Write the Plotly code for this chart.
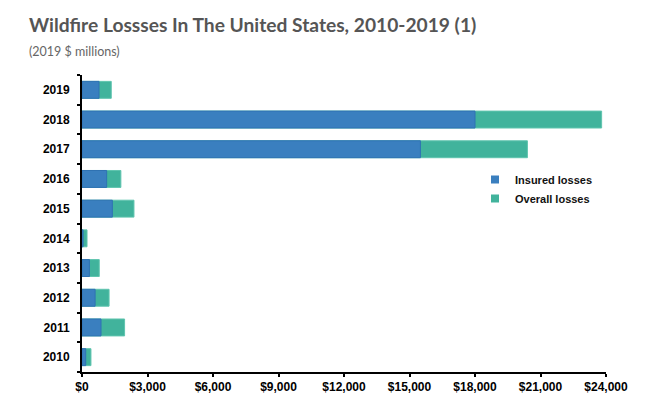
import plotly.graph_objects as go

years = ["2010", "2011", "2012", "2013", "2014", "2015", "2016", "2017", "2018", "2019"]
insured = [170, 870, 600, 340, 50, 1390, 1130, 15500, 18000, 780]
overall = [410, 1950, 1240, 790, 230, 2380, 1780, 20400, 23800, 1340]
x_ticks = [0, 3000, 6000, 9000, 12000, 15000, 18000, 21000, 24000]
x_labels = ["$0", "$3,000", "$6,000", "$9,000", "$12,000", "$15,000", "$18,000", "$21,000", "$24,000"]

BLUE = "#3a7fbf"
TEAL = "#41b39c"
FONT = "Liberation Sans, Arial, sans-serif"

L, R, T, B = 82, 46, 75, 26
W, H = 652, 398
pw = W - L - R
ph = H - T - B


def px(x):
    return (x - L) / pw


def py(y):
    return (H - B - y) / ph


fig = go.Figure()
fig.add_trace(go.Bar(
    y=years, x=overall, orientation="h", name="Overall losses",
    marker=dict(color=TEAL, line=dict(color="#5fc4ae", width=1)),
    showlegend=False,
))
fig.add_trace(go.Bar(
    y=years, x=insured, orientation="h", name="Insured losses",
    marker=dict(color=BLUE, line=dict(color="#2f72b3", width=1)),
    showlegend=False,
))
# legend entries with small square swatches
for name, col in (("Insured losses", BLUE), ("Overall losses", TEAL)):
    fig.add_trace(go.Scatter(
        x=[None], y=[None], mode="markers", name=name,
        marker=dict(symbol="square", size=8, color=col),
        showlegend=True,
    ))

fig.update_layout(
    width=W, height=H,
    margin=dict(l=L, r=R, t=T, b=B, autoexpand=False),
    paper_bgcolor="white", plot_bgcolor="white",
    barmode="overlay", bargap=0.43,
    font=dict(family=FONT, color="#111"),
    showlegend=True,
    legend=dict(
        x=px(475), y=py(165), xanchor="left", yanchor="top",
        font=dict(family=FONT, size=11, color="#111", weight="bold"),
        bgcolor="rgba(0,0,0,0)", itemwidth=30, tracegroupgap=0,
        traceorder="normal",
    ),
    xaxis=dict(
        range=[0, 24000], tickvals=x_ticks, ticktext=x_labels,
        showgrid=False, zeroline=False, automargin=False,
        showline=True, linecolor="black", linewidth=2,
        ticks="outside", ticklen=3, tickwidth=2, tickcolor="black",
        tickfont=dict(family=FONT, size=12, color="black", weight="bold"),
    ),
    yaxis=dict(
        categoryorder="array", categoryarray=years, range=[-0.5, 9.5],
        showgrid=False, zeroline=False, automargin=False,
        showline=True, linecolor="black", linewidth=2,
        ticks="outside", tickson="boundaries", ticklen=3, tickwidth=2, tickcolor="black",
        tickfont=dict(family=FONT, size=12, color="black", weight="bold"),
        ticklabelstandoff=8,
    ),
    annotations=[
        dict(text="Wildfire Lossses In The United States, 2010-2019 (1)",
             x=px(27), y=py(38), xref="paper", yref="paper", xanchor="left", yanchor="bottom",
             showarrow=False,
             font=dict(family="Lato, sans-serif", size=19.2, color="#555555", weight="bold")),
        dict(text="(2019 $ millions)",
             x=px(27), y=py(61), xref="paper", yref="paper", xanchor="left", yanchor="bottom",
             showarrow=False,
             font=dict(family="Lato, sans-serif", size=12.5, color="#666666")),
    ],
)

fig.write_html("out.html", post_script="document.body.style.margin='0';",
               config={"displayModeBar": False})
